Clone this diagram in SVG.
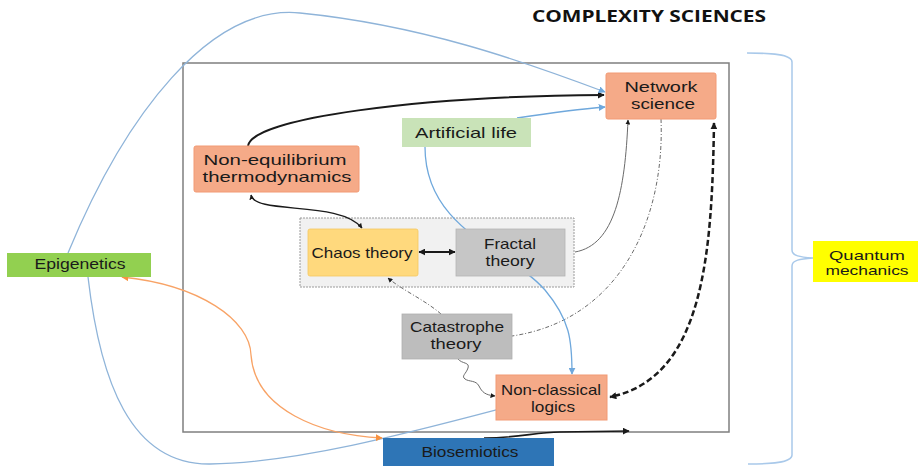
<svg xmlns="http://www.w3.org/2000/svg" width="918" height="466" viewBox="0 0 918 466">
  <defs>
    <style>
      .lbl { font-family: "Liberation Sans", Arial, sans-serif; font-size: 14.5px; fill: #1a1a1a; text-anchor: middle; }
      .sm { font-size: 13px; }
      .title { font-family: "Open Sans", "Liberation Sans", sans-serif; font-size: 16px; font-weight: bold; fill: #111; text-anchor: middle; }
      .salmon { fill: #f5aa88; stroke: #f29a74; stroke-width: 1; }
      .blk { fill: none; stroke: #1a1a1a; }
      .gry { fill: none; stroke: #6a6a6a; stroke-width: 1; }
      .blu { fill: none; stroke: #8fb4d9; stroke-width: 1.3; }
      .blu2 { fill: none; stroke: #6fa8dc; stroke-width: 1.3; }
      .org { fill: none; stroke: #f8a366; stroke-width: 1.3; }
    </style>
    <marker id="ah" viewBox="0 0 10 10" refX="9" refY="5" markerWidth="5" markerHeight="5" orient="auto-start-reverse" markerUnits="userSpaceOnUse">
      <path d="M0,0 L10,5 L0,10 z" fill="#1a1a1a"/>
    </marker>
    <marker id="ahB" viewBox="0 0 10 10" refX="9" refY="5" markerWidth="7" markerHeight="7" orient="auto-start-reverse" markerUnits="userSpaceOnUse">
      <path d="M0,0 L10,5 L0,10 z" fill="#1a1a1a"/>
    </marker>
    <marker id="ahBlue" viewBox="0 0 10 10" refX="9" refY="5" markerWidth="7" markerHeight="7" orient="auto-start-reverse" markerUnits="userSpaceOnUse">
      <path d="M0,0 L10,5 L0,10 z" fill="#6fa8dc"/>
    </marker>
    <marker id="ahOrg" viewBox="0 0 10 10" refX="9" refY="5" markerWidth="7" markerHeight="7" orient="auto-start-reverse" markerUnits="userSpaceOnUse">
      <path d="M0,0 L10,5 L0,10 z" fill="#f7913f"/>
    </marker>
  </defs>

  <rect width="918" height="466" fill="#ffffff"/>

  <!-- title -->
  <text class="title" x="649" y="22" textLength="234" lengthAdjust="spacingAndGlyphs">COMPLEXITY SCIENCES</text>

  <!-- outer frame of the complexity sciences -->
  <rect id="frame" x="183" y="63" width="546" height="369" fill="none" stroke="#7f7f7f" stroke-width="1.5"/>

  <!-- brace grouping everything under quantum mechanics -->
  <path id="brace" d="M747,53 C770,53 792,54 792,62 L792,250 C792,256 800,257 813,258 C800,259 792,260 792,266 L792,455 C792,463 770,464 748,464" fill="none" stroke="#a9c9ea" stroke-width="1.5"/>

  <!-- grey container for chaos and fractal theory -->
  <rect id="container" x="300" y="218" width="274" height="69" fill="#f1f1f1" stroke="#9a9a9a" stroke-width="1" stroke-dasharray="2,1"/>

  <g id="connectors">
    <!-- non-equilibrium thermodynamics to network science -->
    <path class="blk" stroke-width="2" d="M248,146 C252,118 420,96 604,95" marker-end="url(#ahB)"/>
    <!-- artificial life to network science -->
    <path class="blu2" d="M517,118 C550,113 580,109 605,107" marker-end="url(#ahBlue)"/>
    <!-- epigenetics to network science -->
    <path class="blu" d="M68,253 C125,115 210,4 300,13 C420,25 520,60 605,92" marker-end="url(#ahBlue)"/>
    <!-- epigenetics to non-classical logics (tee end) -->
    <path class="blu" d="M88,277 C100,380 130,465 210,464 C300,463 420,430 515,405"/>
    <line x1="514" y1="399" x2="516" y2="411" stroke="#8fb4d9" stroke-width="1.8"/>
    <!-- epigenetics and biosemiotics -->
    <path class="org" d="M122,277 C200,285 250,320 251,355 C255,410 320,435 382,438" marker-start="url(#ahOrg)" marker-end="url(#ahOrg)"/>
    <!-- biosemiotics onward -->
    <path class="blk" stroke-width="1.6" d="M484,438 C520,438 535,432 560,432 L629,431" marker-end="url(#ahB)"/>
    <!-- fractal theory to network science -->
    <path class="gry" stroke="#555" d="M575,252 C615,245 625,190 628,120" marker-end="url(#ah)"/>
    <!-- network science to catastrophe theory -->
    <path class="gry" stroke-dasharray="4,2,1,2" d="M661,119 C665,220 620,320 512,336"/>
    <!-- catastrophe theory to chaos theory -->
    <path class="gry" stroke-dasharray="4,2,1,2" d="M441,314 C425,300 402,290 388,278" marker-end="url(#ah)"/>
    <!-- catastrophe theory to non-classical logics -->
    <path class="gry" stroke="#808080" d="M458,359 C462,364 470,362 468,368 C466,374 461,376 465,379 C469,382 476,380 479,386 C482,392 485,395 495,396" marker-end="url(#ah)"/>
    <!-- network science and non-classical logics -->
    <path class="blk" stroke-width="2.5" stroke-dasharray="6,3" d="M714,123 C712,250 705,378 610,397" marker-start="url(#ahB)" marker-end="url(#ahB)"/>
    <!-- non-equilibrium thermodynamics and chaos theory -->
    <path class="blk" stroke-width="1.3" d="M251,195 C255,215 340,200 362,228" marker-start="url(#ah)" marker-end="url(#ah)"/>
    <!-- chaos theory and fractal theory -->
    <path class="blk" stroke-width="2" d="M419,252 L455,252" marker-start="url(#ahB)" marker-end="url(#ahB)"/>
    <!-- artificial life to non-classical logics -->
    <path class="blu2" d="M425,147 C425,230 510,250 545,290 C570,320 572,340 572,374" marker-end="url(#ahBlue)"/>
  </g>

  <g id="network-science">
    <rect class="salmon" x="606" y="73" width="110" height="46" rx="2"/>
    <text class="lbl" x="661" y="92" textLength="73" lengthAdjust="spacingAndGlyphs">Network</text>
    <text class="lbl" x="663" y="109" textLength="64" lengthAdjust="spacingAndGlyphs">science</text>
  </g>

  <g id="artificial-life">
    <rect x="402" y="118" width="129" height="29" fill="#c9e3b8"/>
    <text class="lbl" x="466" y="138" textLength="102" lengthAdjust="spacingAndGlyphs">Artificial life</text>
  </g>

  <g id="non-equilibrium-thermodynamics">
    <rect class="salmon" x="194" y="146" width="165" height="46" rx="2"/>
    <text class="lbl" x="275" y="165" textLength="143" lengthAdjust="spacingAndGlyphs">Non-equilibrium</text>
    <text class="lbl" x="277" y="182" textLength="149" lengthAdjust="spacingAndGlyphs">thermodynamics</text>
  </g>

  <g id="chaos-theory">
    <rect x="308" y="229" width="110" height="47" rx="2" fill="#ffd97d" stroke="#f5c860" stroke-width="0.8"/>
    <text class="lbl" x="362" y="258" textLength="101" lengthAdjust="spacingAndGlyphs">Chaos theory</text>
  </g>

  <g id="fractal-theory">
    <rect x="456" y="229" width="109" height="47" fill="#c6c6c6" stroke="#b5b5b5" stroke-width="0.8"/>
    <text class="lbl" x="510" y="249" textLength="52" lengthAdjust="spacingAndGlyphs">Fractal</text>
    <text class="lbl" x="510" y="266" textLength="49" lengthAdjust="spacingAndGlyphs">theory</text>
  </g>

  <g id="catastrophe-theory">
    <rect x="402" y="314" width="110" height="45" fill="#bdbdbd" stroke="#b0b0b0" stroke-width="0.8"/>
    <text class="lbl" x="457" y="332" textLength="94" lengthAdjust="spacingAndGlyphs">Catastrophe</text>
    <text class="lbl" x="456" y="349" textLength="51" lengthAdjust="spacingAndGlyphs">theory</text>
  </g>

  <g id="non-classical-logics">
    <rect class="salmon" x="496" y="375" width="111" height="45"/>
    <text class="lbl" x="551" y="395" textLength="100" lengthAdjust="spacingAndGlyphs">Non-classical</text>
    <text class="lbl" x="553" y="412" textLength="44" lengthAdjust="spacingAndGlyphs">logics</text>
  </g>

  <g id="epigenetics">
    <rect x="7" y="253" width="144" height="24" fill="#92d050"/>
    <text class="lbl" x="80" y="269" textLength="91" lengthAdjust="spacingAndGlyphs">Epigenetics</text>
  </g>

  <g id="biosemiotics">
    <rect x="383" y="438" width="171" height="30" fill="#2e75b6"/>
    <text class="lbl" x="470" y="457" textLength="97" lengthAdjust="spacingAndGlyphs">Biosemiotics</text>
  </g>

  <g id="quantum-mechanics">
    <rect x="813" y="241" width="105" height="41" fill="#ffff00"/>
    <text class="lbl sm" x="867" y="260" textLength="76" lengthAdjust="spacingAndGlyphs">Quantum</text>
    <text class="lbl sm" x="867" y="275" textLength="83" lengthAdjust="spacingAndGlyphs">mechanics</text>
  </g>
</svg>
